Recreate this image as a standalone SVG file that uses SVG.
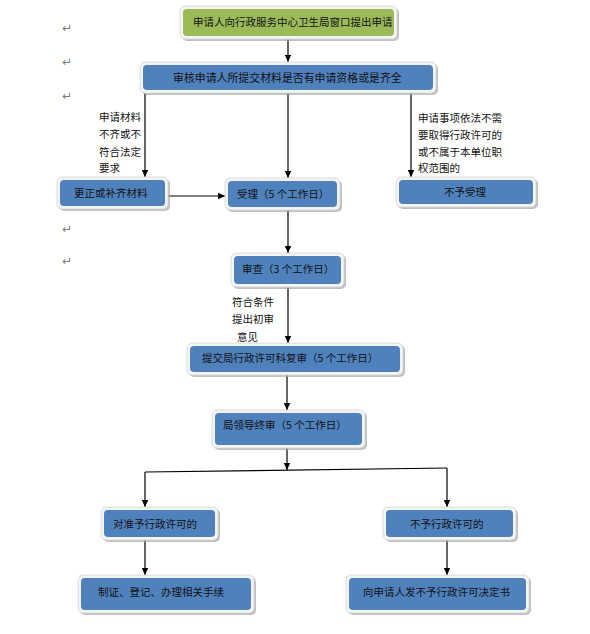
<svg xmlns="http://www.w3.org/2000/svg" width="590" height="634" viewBox="0 0 590 634">
<defs>
<marker id="ah" markerUnits="userSpaceOnUse" markerWidth="8" markerHeight="8" refX="7" refY="4" orient="auto">
<path d="M0,0.8 L7,4 L0,7.2 Z" fill="#000"/>
</marker>
<style>
.sh{fill:#A6A6A6;opacity:0.7}
.bd{fill:#F4F4F4;stroke:#D6D6D6;stroke-width:0.8}
.bl{fill:#4F81BD}
.gr{fill:#9BBB59}
.t{font-family:"Noto Sans CJK SC","Noto Sans",sans-serif;font-size:10.5px;fill:#111}
.lb{font-family:"Noto Sans CJK SC","Noto Sans",sans-serif;font-size:10.5px;fill:#111}
.mk{font-family:"DejaVu Sans",sans-serif;font-size:12px;fill:#7a7a7a}
.c{stroke:#000;stroke-width:1.2;fill:none}
</style>
</defs>
<rect width="590" height="634" fill="#fff"/>
<g id="marks">
<text class="mk" x="62" y="32">↵</text>
<text class="mk" x="62" y="66">↵</text>
<text class="mk" x="62" y="100">↵</text>
<text class="mk" x="62" y="233">↵</text>
<text class="mk" x="62" y="265">↵</text>
</g>
<g id="connectors">
<line class="c" x1="288" y1="39" x2="288" y2="62" marker-end="url(#ah)"/>
<line class="c" x1="145" y1="93" x2="145" y2="177" marker-end="url(#ah)"/>
<line class="c" x1="288" y1="93" x2="288" y2="178" marker-end="url(#ah)"/>
<line class="c" x1="411" y1="93" x2="411" y2="177" marker-end="url(#ah)"/>
<line class="c" x1="168" y1="196" x2="225" y2="196" marker-end="url(#ah)"/>
<line class="c" x1="288" y1="210" x2="288" y2="253" marker-end="url(#ah)"/>
<line class="c" x1="288" y1="287" x2="288" y2="343" marker-end="url(#ah)"/>
<line class="c" x1="287" y1="375" x2="287" y2="410" marker-end="url(#ah)"/>
<line class="c" x1="287" y1="448" x2="287" y2="470" marker-end="url(#ah)"/>
<polyline class="c" points="145,472 447,468"/>
<line class="c" x1="145" y1="472" x2="145" y2="507" marker-end="url(#ah)"/>
<line class="c" x1="447" y1="468" x2="447" y2="507" marker-end="url(#ah)"/>
<line class="c" x1="145" y1="540" x2="145" y2="575" marker-end="url(#ah)"/>
<line class="c" x1="447" y1="540" x2="447" y2="575" marker-end="url(#ah)"/>
</g>
<g id="labels">
<text class="lb" x="99" y="121">申请材料</text>
<text class="lb" x="99" y="138">不齐或不</text>
<text class="lb" x="99" y="156">符合法定</text>
<text class="lb" x="99" y="172">要求</text>
<text class="lb" x="418" y="122">申请事项依法不需</text>
<text class="lb" x="418" y="139">要取得行政许可的</text>
<text class="lb" x="418" y="156">或不属于本单位职</text>
<text class="lb" x="418" y="172">权范围的</text>
<text class="lb" x="232" y="306">符合条件</text>
<text class="lb" x="232" y="323">提出初审</text>
<text class="lb" x="237" y="341">意见</text>
</g>
<g id="n1">
<rect class="sh" x="182" y="8" width="217" height="33" rx="5"/>
<rect class="bd" x="180" y="6" width="217" height="33" rx="5"/>
<rect class="gr" x="183" y="9" width="211" height="27" rx="4"/>
<text class="t" x="193" y="26">申请人向行政服务中心卫生局窗口提出申请</text>
</g>
<g id="n2">
<rect class="sh" x="142" y="64" width="296" height="31" rx="5"/>
<rect class="bd" x="140" y="62" width="296" height="31" rx="5"/>
<rect class="bl" x="143" y="65" width="290" height="25" rx="4"/>
<text class="t" x="173" y="81.5" style="font-size:10.9px">审核申请人所提交材料是否有申请资格或是齐全</text>
</g>
<g id="n3">
<rect class="sh" x="59" y="179" width="111" height="32" rx="5"/>
<rect class="bd" x="57" y="177" width="111" height="32" rx="5"/>
<rect class="bl" x="60" y="180" width="105" height="26" rx="4"/>
<text class="t" x="74" y="197">更正或补齐材料</text>
</g>
<g id="n4">
<rect class="sh" x="227" y="180" width="115" height="32" rx="5"/>
<rect class="bd" x="225" y="178" width="115" height="32" rx="5"/>
<rect class="bl" x="228" y="181" width="109" height="26" rx="4"/>
<text class="t" x="237" y="198">受理（5 个工作日）</text>
</g>
<g id="n5">
<rect class="sh" x="398" y="179" width="140" height="30" rx="5"/>
<rect class="bd" x="396" y="177" width="140" height="30" rx="5"/>
<rect class="bl" x="399" y="180" width="134" height="24" rx="4"/>
<text class="t" x="444" y="196">不予受理</text>
</g>
<g id="n6">
<rect class="sh" x="233" y="255" width="113" height="34" rx="5"/>
<rect class="bd" x="231" y="253" width="113" height="34" rx="5"/>
<rect class="bl" x="234" y="256" width="107" height="28" rx="4"/>
<text class="t" x="242" y="273">审查（3 个工作日）</text>
</g>
<g id="n7">
<rect class="sh" x="189" y="345" width="216" height="32" rx="5"/>
<rect class="bd" x="187" y="343" width="216" height="32" rx="5"/>
<rect class="bl" x="190" y="346" width="210" height="26" rx="4"/>
<text class="t" x="202" y="362">提交局行政许可科复审（5 个工作日）</text>
</g>
<g id="n8">
<rect class="sh" x="214" y="412" width="153" height="38" rx="5"/>
<rect class="bd" x="212" y="410" width="153" height="38" rx="5"/>
<rect class="bl" x="215" y="413" width="147" height="32" rx="4"/>
<text class="t" x="223" y="429">局领导终审（5 个工作日）</text>
</g>
<g id="n9">
<rect class="sh" x="103" y="509" width="117" height="33" rx="5"/>
<rect class="bd" x="101" y="507" width="117" height="33" rx="5"/>
<rect class="bl" x="104" y="510" width="111" height="27" rx="4"/>
<text class="t" x="113" y="528">对准予行政许可的</text>
</g>
<g id="n10">
<rect class="sh" x="385" y="509" width="133" height="33" rx="5"/>
<rect class="bd" x="383" y="507" width="133" height="33" rx="5"/>
<rect class="bl" x="386" y="510" width="127" height="27" rx="4"/>
<text class="t" x="410" y="528">不予行政许可的</text>
</g>
<g id="n11">
<rect class="sh" x="80" y="577" width="176" height="38" rx="5"/>
<rect class="bd" x="78" y="575" width="176" height="38" rx="5"/>
<rect class="bl" x="81" y="578" width="170" height="32" rx="4"/>
<text class="t" x="98" y="596">制证、登记、办理相关手续</text>
</g>
<g id="n12">
<rect class="sh" x="348" y="577" width="183" height="38" rx="5"/>
<rect class="bd" x="346" y="575" width="183" height="38" rx="5"/>
<rect class="bl" x="349" y="578" width="177" height="32" rx="4"/>
<text class="t" x="363" y="596">向申请人发不予行政许可决定书</text>
</g>
</svg>
